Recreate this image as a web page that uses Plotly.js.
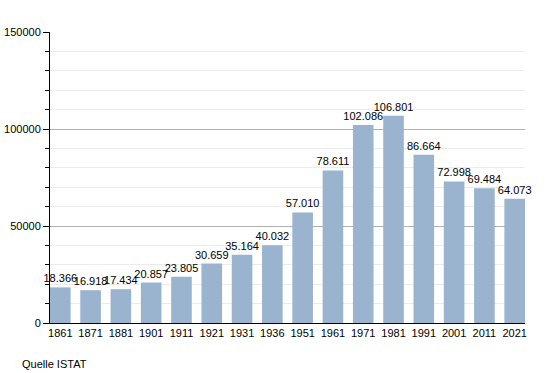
<!DOCTYPE html>
<html>
<head>
<meta charset="utf-8">
<script src="https://cdn.plot.ly/plotly-3.0.1.min.js"></script>
<style>html,body{margin:0;padding:0;background:#fff;}#chart{width:555px;height:373px;}</style>
</head>
<body>
<div id="chart"></div>
<script>
const years = ["1861","1871","1881","1901","1911","1921","1931","1936","1951","1961","1971","1981","1991","2001","2011","2021"];
const population = [18366,16918,17434,20857,23805,30659,35164,40032,57010,78611,102086,106801,86664,72998,69484,64073];
const source = "Quelle ISTAT";

const trace = {
  type: "bar",
  x: years,
  y: population,
  marker: {color: "rgb(154,179,207)"},
  texttemplate: "%{y:,}",
  textposition: "outside",
  constraintext: "none",
  textfont: {family: "Liberation Sans, Arial, sans-serif", size: 11, color: "#000"},
  cliponaxis: false,
  hoverinfo: "none"
};

const layout = {
  width: 555, height: 373,
  margin: {l: 50, r: 30, t: 32, b: 50},
  separators: ",.",
  paper_bgcolor: "#fff",
  plot_bgcolor: "#fff",
  font: {family: "Liberation Sans, Arial, sans-serif", size: 11, color: "#000"},
  bargap: 0.32,
  showlegend: false,
  xaxis: {
    type: "category",
    range: [-0.34, 15.34],
    showline: true, linecolor: "#000", linewidth: 1,
    ticks: "", showgrid: false,
    tickfont: {size: 11}
  },
  yaxis: {
    range: [0, 150000],
    dtick: 50000,
    tickformat: "d",
    showline: true, linecolor: "#000", linewidth: 1,
    ticks: "outside", ticklen: 6, tickcolor: "#000",
    gridcolor: "#b0b0b0", gridwidth: 1,
    zeroline: false,
    minor: {dtick: 10000, showgrid: true, gridcolor: "#ececec", ticks: "outside", ticklen: 4, tickcolor: "#000"},
    tickfont: {size: 11}
  },
  annotations: [{
    text: source, xref: "paper", yref: "paper", x: -0.063, y: -0.113,
    xanchor: "left", yanchor: "top", showarrow: false,
    font: {size: 11, color: "#000"}
  }]
};

Plotly.newPlot("chart", [trace], layout, {staticPlot: true, displayModeBar: false});
</script>
</body>
</html>
